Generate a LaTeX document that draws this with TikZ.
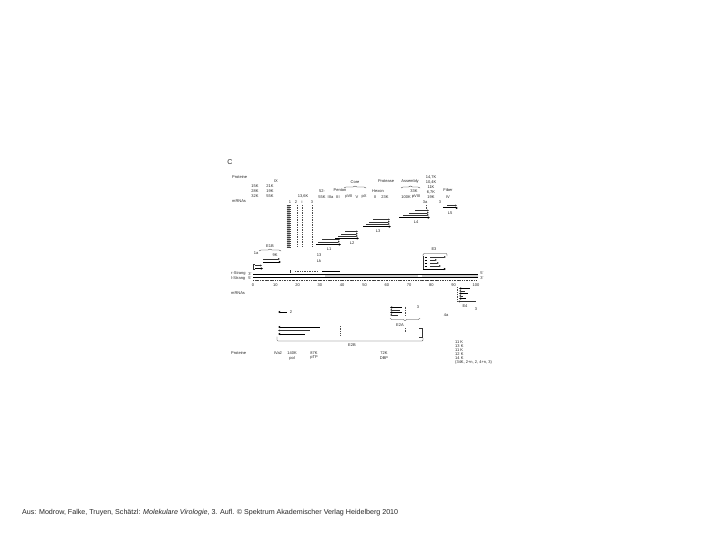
\documentclass[tikz,border=0pt]{standalone}
\usepackage{fontspec}
\usepackage{graphicx}
\setmainfont{Liberation Sans}
\usetikzlibrary{arrows.meta,decorations.pathreplacing}
\begin{document}
\begin{tikzpicture}[x=1pt,y=-1pt,
  lbl/.style={font=\fontsize{4}{4}\selectfont, inner sep=0pt, text=black!85},
  lblw/.style={lbl, anchor=west},
  tln/.style={line width=0.35pt, draw=black!80},
  rtr/.style={tln, -{Latex[length=1.8pt,width=1.8pt]}},
  rtk/.style={line width=1pt, draw=black, -{Latex[length=2.2pt,width=2.6pt]}},
  ltr/.style={tln, {Latex[length=1.8pt,width=1.8pt]}-},
  ltk/.style={line width=1pt, draw=black, {Latex[length=2.2pt,width=2.6pt]}-},
  dotcol/.style={line width=0.5pt, draw=black!70, dash pattern=on 0.5pt off 1.2pt},
  brc/.style={tln, decorate, decoration={brace, amplitude=2pt}},
  brcm/.style={tln, decorate, decoration={brace, amplitude=2pt, mirror}},
]
\useasboundingbox (0,0) rectangle (720,540);
\fill[white] (0,0) rectangle (720,540);

% ---------- panel letter and top labels ----------
\node[font=\fontsize{7}{7}\selectfont, inner sep=0pt, text=black!85] (C) at (230,162) {C};
\node[lblw] (prot1) at (232,177) {Proteine};
\node[lbl] (ix) at (276,181) {IX};
\node[lbl] (k15) at (255,186) {15K};
\node[lbl] (k21) at (270,186) {21K};
\node[lbl] (k28) at (255,191) {28K};
\node[lbl] (k19) at (270,191) {19K};
\node[lbl] (k32) at (255,196) {32K};
\node[lbl] (k55) at (270,196) {55K};
\node[lblw] (mrna1) at (232,201) {mRNAs};

\node[lbl] (k136) at (303,196.5) {13,6K};
\node[lbl] (d1) at (290,202) {1};
\node[lbl] (d2) at (296,202) {2};
\node[lbl] (di) at (302,202) {i};
\node[lbl] (d3) at (312,202) {3};

\node[lbl] (k52a) at (322,191) {52-};
\node[lbl] (k52) at (322,197) {55K};
\node[lbl] (penton) at (340,190.5) {Penton};
\node[lbl] (core) at (355,182) {Core};
\draw[brc] (344,188) -- (366,188);
\node[lbl] (p3a) at (330.5,197) {IIIa};
\node[lbl] (p3) at (338,197) {III};
\node[lbl] (p7) at (349,197) {pVII};
\node[lbl] (p5) at (357,197) {V};
\node[lbl] (px) at (364,197) {pX};
\node[lbl] (hexon) at (378,191) {Hexon};
\node[lbl] (p2) at (375,197) {II};
\node[lbl] (k23) at (385,197) {23K};
\node[lbl] (prot) at (386,181) {Protease};
\node[lbl] (morph) at (410,181) {Assembly};
\draw[brc] (401,188) -- (420,188);
\node[lbl] (k33) at (414,191.5) {33K};
\node[lbl] (k100) at (406,197) {100K};
\node[lbl] (p8) at (416,197) {pVIII};
\node[lbl] (e3a) at (431,177) {14,7K};
\node[lbl] (e3b) at (431,182.5) {10,4K};
\node[lbl] (e3c) at (431,187.5) {11K};
\node[lbl] (e3d) at (431,192) {6,7K};
\node[lbl] (e3e) at (431,197) {19K};
\node[lbl] (fiber) at (448,190) {Fiber};
\node[lbl] (p4) at (448,197) {IV};

% ---------- tripartite leader ----------
\fill[black!30] (287,205) rectangle (290,247);
\foreach \yy in {205,207,...,247} \draw[line width=0.3pt, black!75] (286.5,\yy) -- (290.5,\yy);
\foreach \xx in {297,302,312} \draw[dotcol] (\xx,205) -- (\xx,247);

% ---------- late transcripts L1-L5 ----------
\draw[rtr] (322,239.5) -- (340,239.5);
\draw[rtr] (318,241.8) -- (340,241.8);
\draw[rtk] (316,244.5) -- (341,244.5);
\node[lbl] (L1) at (329,249) {L1};

\draw[rtr] (345,231.5) -- (358,231.5);
\draw[rtr] (341,233.8) -- (358,233.8);
\draw[rtr] (338,236) -- (358,236);
\draw[rtk] (335,238.4) -- (359,238.4);
\node[lbl] (L2) at (352,243) {L2};

\draw[rtr] (373,219.5) -- (390,219.5);
\draw[rtr] (369,221.8) -- (390,221.8);
\draw[rtr] (366,224) -- (390,224);
\draw[rtk] (363,226.6) -- (391,226.6);
\node[lbl] (L3) at (378,231) {L3};

\draw[rtr] (415,210.5) -- (429,210.5);
\draw[rtr] (409,212.8) -- (429,212.8);
\draw[rtr] (403,215) -- (429,215);
\draw[rtk] (399,217.6) -- (430,217.6);
\node[lbl] (L4) at (416,222) {L4};

\node[lbl] (m3a) at (425,202) {3a};
\draw[dotcol] (426,205) -- (426,209);
\node[lbl] (m3) at (440,202) {3};
\draw[rtr] (447,205.5) -- (457,205.5);
\draw[rtk] (443,208) -- (458,208);
\node[lbl] (L5) at (450,213) {L5};

% ---------- E1A / E1B / IX ----------
\node[lbl] (e1b) at (270,246) {E1B};
\draw[brc] (259,251) -- (281,251);
\node[lbl] (e1a) at (256,253) {1a};
\node[lbl] (k9) at (275,255) {9K};
\draw[rtr] (263,259) -- (280,259);
\draw[rtk] (263,262) -- (281,262);
\draw[tln] (254,264.5) -- (253.5,264.5) -- (253.5,269.5) -- (254,269.5);
\draw[rtr] (255,265.5) -- (262,265.5);
\draw[rtk] (255,268.5) -- (263,268.5);
\node[lbl] (i13) at (319,255) {13};
\node[lbl] (lk) at (319,261) {Lk};

% ---------- genome ----------
\draw[tln] (290,270) -- (290,272.5);
\draw[dotcol] (295,271.5) -- (318,271.5);
\draw[line width=0.7pt] (322,271.3) -- (340,271.3);

\fill[black!18] (325,274) rectangle (418,277.5);
\fill[black!18] (422,274) rectangle (478,277.5);
\draw[line width=0.5pt] (253,274) -- (478,274);
\draw[line width=0.5pt] (253,277.5) -- (478,277.5);
\node[lblw] (rs) at (231,274) {r-Strang};
\node[lbl] (rs3) at (250,274) {3'};
\node[lblw] (ls) at (231,278.5) {l-Strang};
\node[lbl] (ls5) at (250,278.5) {5'};
\node[lbl] (re5) at (482,273) {5'};
\node[lbl] (re3) at (482,278.5) {3'};

\draw[dotcol] (253,280.6) -- (476,280.6);
\foreach \i in {0,...,50} \draw[line width=0.3pt, black!80] ({253+4.46*\i},280) -- ++(0,1.3);
\foreach \i/\t in {0/0,1/10,2/20,3/30,4/40,5/50,6/60,7/70,8/80,9/90,10/100}
  \node[lbl] (sc\i) at ({253+22.3*\i},285.5) {\t};

% ---------- E3 ----------
\node[lbl] (E3) at (434,249) {E3};
\draw[tln, rounded corners=1pt] (423,256) -- (423,253.5) -- (447,253.5) -- (447,256);
\draw[tln] (423,256) -- (423,270);
\foreach \yy in {257,260,263,266} \draw[line width=0.5pt] (424.5,\yy) -- (426.5,\yy);
\draw[rtr] (430,257) -- (446,257);
\draw[rtr] (430,260) -- (437,260);
\draw[rtr] (430,263) -- (439,263);
\draw[rtr] (430,266) -- (441,266);
\draw[rtk] (423,269) -- (446,269);

% ---------- mRNAs of l-strand ----------
\node[lblw] (mrna2) at (231,293) {mRNAs};

% E4
\draw[ltk] (459,288.5) -- (470,288.5);
\draw[ltr] (459,291) -- (465,291);
\draw[ltk] (459,293.5) -- (468,293.5);
\draw[ltr] (459,296) -- (463,296);
\draw[ltk] (459,298.5) -- (466,298.5);
\draw[ltr] (458,301.5) -- (476,301.5);
\draw[dotcol] (457.5,287) -- (457.5,302);
\node[lbl] (E4) at (465,306.5) {E4};
\node[lbl] (e4n) at (476,309) {3};
\node[lbl] (e4a) at (446,315) {4a};

% IVa2
\draw[ltk] (278,312) -- (287,312);
\node[lbl] (iva2n) at (291,312) {2};

% E2B
\draw[ltk] (278,327) -- (320,327);
\draw[ltr] (278,330.5) -- (310,330.5);
\draw[ltk] (278,334) -- (305,334);
\draw[tln, rounded corners=1pt] (277,336.5) -- (277,341) -- (423,341) -- (423,338);
\draw[dotcol] (340,326) -- (340,335);
\node[lbl] (E2B) at (352,345) {E2B};

% E2A
\draw[ltk] (390,307.5) -- (402,307.5);
\draw[ltr] (390,310) -- (400,310);
\draw[ltk] (390,312.5) -- (402,312.5);
\draw[ltr] (390,315) -- (398,315);
\draw[dotcol] (405,306.5) -- (405,315.5);
\node[lbl] (e2n) at (418,307.5) {3};
\draw[brcm] (390,318.5) -- (420,318.5);
\node[lbl] (E2A) at (400,325) {E2A};
\draw[dotcol] (405,328) -- (405,332);
\draw[tln] (419,328) -- (422,328) -- (422,337) -- (419,337);

% ---------- bottom proteins ----------
\node[lblw] (prot2) at (231,353) {Proteine};
\node[lbl] (biva2) at (278,353) {IVa2};
\node[lbl] (b140) at (292,353) {140K};
\node[lbl] (bpol) at (292,358) {pol};
\node[lbl] (b87) at (314,353) {87K};
\node[lbl] (bptp) at (314,358) {pTP};
\node[lbl] (b72) at (384,353) {72K};
\node[lbl] (bdbp) at (384,358) {DBP};
\node[lblw] (o1) at (455,342) {11 K};
\node[lblw] (o2) at (455,346) {13 K};
\node[lblw] (o3) at (455,350) {11 K};
\node[lblw] (o4) at (455,354) {12 K};
\node[lblw] (o5) at (455,358) {14 K};
\node[lblw] (o6) at (455,362.5) {(34K, 2+n, 2, 4+n, 3)};

% ---------- footer ----------
\node[anchor=west, inner sep=0pt, text=black!85] (foot) at (22,512.5)
  {\resizebox{376pt}{!}{\fontsize{7}{8}\selectfont Aus: Modrow, Falke, Truyen, Schätzl: \textit{Molekulare Virologie}, 3. Aufl. © Spektrum Akademischer Verlag Heidelberg 2010}};
\end{tikzpicture}
\end{document}
